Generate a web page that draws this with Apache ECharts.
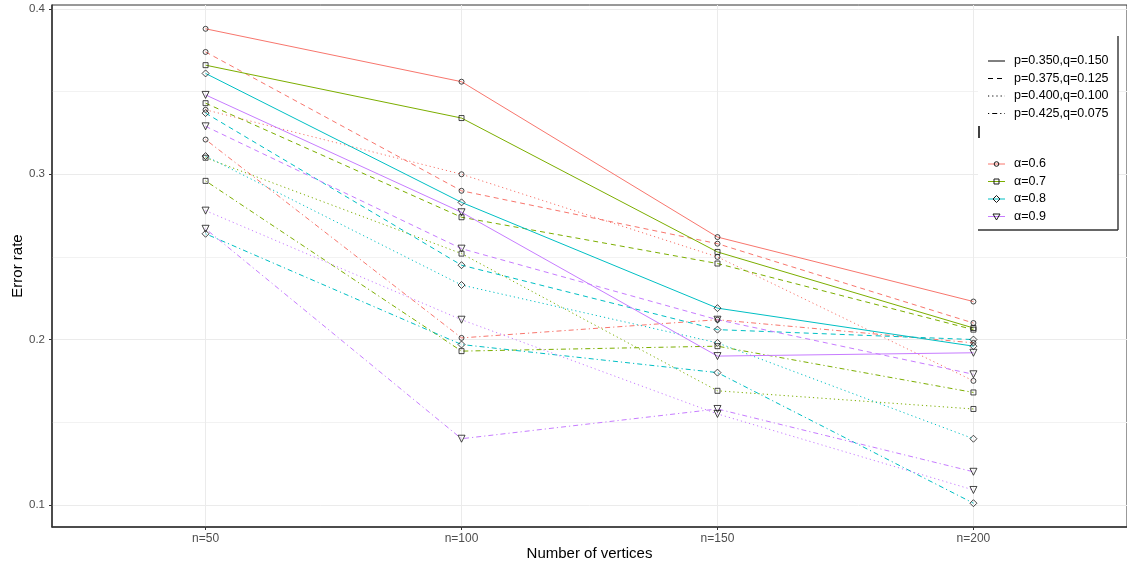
<!DOCTYPE html>
<html>
<head>
<meta charset="utf-8">
<script src="https://cdn.jsdelivr.net/npm/echarts@6/dist/echarts.min.js"></script>
<style>
  html, body { margin: 0; padding: 0; background: #fff; }
  #container { width: 1127px; height: 565px; }
</style>
</head>
<body>
<div id="container"></div>
<script>
// categories and legend labels
const categories = ['n=50', 'n=100', 'n=150', 'n=200'];
const settings = ['p=0.350,q=0.150', 'p=0.375,q=0.125', 'p=0.400,q=0.100', 'p=0.425,q=0.075'];
const alphas = ['α=0.6', 'α=0.7', 'α=0.8', 'α=0.9'];
const yTicks = [0.1, 0.2, 0.3, 0.4];
const yMinorTicks = [0.15, 0.25, 0.35];

// error rates, one array per alpha / (p,q) setting
const a06_p350 = [0.388, 0.356, 0.262, 0.223];
const a06_p375 = [0.374, 0.290, 0.258, 0.210];
const a06_p400 = [0.339, 0.300, 0.250, 0.175];
const a06_p425 = [0.321, 0.201, 0.212, 0.198];
const a07_p350 = [0.366, 0.334, 0.253, 0.207];
const a07_p375 = [0.343, 0.274, 0.246, 0.206];
const a07_p400 = [0.310, 0.252, 0.169, 0.158];
const a07_p425 = [0.296, 0.193, 0.196, 0.168];
const a08_p350 = [0.361, 0.283, 0.219, 0.196];
const a08_p375 = [0.337, 0.245, 0.206, 0.200];
const a08_p400 = [0.311, 0.233, 0.198, 0.140];
const a08_p425 = [0.264, 0.197, 0.180, 0.101];
const a09_p350 = [0.348, 0.277, 0.190, 0.192];
const a09_p375 = [0.329, 0.255, 0.212, 0.179];
const a09_p400 = [0.278, 0.212, 0.155, 0.109];
const a09_p425 = [0.267, 0.140, 0.158, 0.120];

const groups = [
    [a06_p350, a06_p375, a06_p400, a06_p425],
    [a07_p350, a07_p375, a07_p400, a07_p425],
    [a08_p350, a08_p375, a08_p400, a08_p425],
    [a09_p350, a09_p375, a09_p400, a09_p425]
];

const colors = ['#F8766D', '#7CAE00', '#00BFC4', '#C77CFF'];
const dashes = ['solid', [5, 4], [1.2, 3], [1.2, 3, 5, 3]];
const symbols = ['circle', 'rect', 'diamond', 'triangle'];
const symbolSizes = [5, 5, 7, 7];
const symbolRotates = [0, 0, 0, 180];
const FONT = 'Liberation Sans, Arial, sans-serif';

var series = [];
groups.forEach(function (grp, a) {
    grp.forEach(function (vals, s) {
        var pts = vals.map(function (v, i) { return [i + 1, v]; });
        series.push({
            name: alphas[a] + ' ' + settings[s],
            type: 'line',
            data: pts,
            showSymbol: false,
            symbol: 'none',
            z: 2,
            lineStyle: { color: colors[a], width: 1, type: dashes[s] }
        });
    });
});
groups.forEach(function (grp, a) {
    grp.forEach(function (vals, s) {
        series.push({
            type: 'scatter',
            data: vals.map(function (v, i) { return [i + 1, v]; }),
            symbol: symbols[a],
            symbolSize: symbolSizes[a],
            symbolRotate: symbolRotates[a],
            z: 5,
            itemStyle: { color: 'rgba(0,0,0,0)', borderColor: '#1a1a1a', borderWidth: 1 }
        });
    });
});

// legend drawn by hand (two blocks like ggplot)
var legend = [
    { type: 'rect', shape: { x: 978, y: 36, width: 140, height: 194 }, style: { fill: '#fff' }, z: 50 },
    { type: 'line', shape: { x1: 1118, y1: 36, x2: 1118, y2: 230 }, style: { stroke: '#333', lineWidth: 1.4 }, z: 51 },
    { type: 'line', shape: { x1: 978, y1: 230, x2: 1118, y2: 230 }, style: { stroke: '#333', lineWidth: 1.4 }, z: 51 },
    { type: 'line', shape: { x1: 979, y1: 126, x2: 979, y2: 138 }, style: { stroke: '#000', lineWidth: 1.5 }, z: 51 }
];
settings.forEach(function (lab, s) {
    var y = 61 + s * 17.5;
    legend.push({ type: 'line', shape: { x1: 988, y1: y, x2: 1005, y2: y },
        style: { stroke: '#000', lineWidth: 1, lineDash: dashes[s] === 'solid' ? null : dashes[s] }, z: 52 });
    legend.push({ type: 'text', x: 1014, y: y, style: { text: lab, fill: '#000', font: '12.5px ' + FONT, verticalAlign: 'middle' }, z: 52 });
});
alphas.forEach(function (lab, a) {
    var y = 164 + a * 17.5;
    legend.push({ type: 'line', shape: { x1: 988, y1: y, x2: 1005, y2: y }, style: { stroke: colors[a], lineWidth: 1 }, z: 52 });
    var mk;
    if (a === 0) mk = { type: 'circle', shape: { cx: 996.5, cy: y, r: 2.3 } };
    else if (a === 1) mk = { type: 'rect', shape: { x: 994, y: y - 2.5, width: 5, height: 5 } };
    else if (a === 2) mk = { type: 'polygon', shape: { points: [[996.5, y - 3.5], [1000, y], [996.5, y + 3.5], [993, y]] } };
    else mk = { type: 'polygon', shape: { points: [[993, y - 2.5], [1000, y - 2.5], [996.5, y + 3.5]] } };
    mk.style = { fill: 'none', stroke: '#1a1a1a', lineWidth: 1 };
    mk.z = 53;
    legend.push(mk);
    legend.push({ type: 'text', x: 1014, y: y, style: { text: lab, fill: '#000', font: '12.5px ' + FONT, verticalAlign: 'middle' }, z: 52 });
});

var chart = echarts.init(document.getElementById('container'));
chart.setOption({
    animation: false,
    backgroundColor: '#fff',
    grid: { left: 52, right: 0, top: 5, bottom: 38, show: true, borderColor: '#333', borderWidth: 1,
        containLabel: false, outerBoundsMode: 'none' },
    xAxis: {
        type: 'value', min: 0.4, max: 4.6,
        name: 'Number of vertices', nameLocation: 'middle', nameGap: 19, nameMoveOverlap: false,
        nameTextStyle: { fontFamily: FONT, fontSize: 15, color: '#000', verticalAlign: 'top' },
        axisLine: { show: true, onZero: false, lineStyle: { color: '#333', width: 1.5 } },
        axisTick: { show: true, length: 3, customValues: [1, 2, 3, 4], lineStyle: { color: '#333' } },
        axisLabel: { customValues: [1, 2, 3, 4], margin: 6, fontFamily: FONT, fontSize: 12, color: '#4D4D4D',
            formatter: function (v) { return categories[Math.round(v) - 1]; } },
        splitLine: { show: true, lineStyle: { color: '#EBEBEB', width: 1 } }
    },
    yAxis: [{
        type: 'value', min: 0.0866, max: 0.4024,
        name: 'Error rate', nameLocation: 'middle', nameGap: 27, nameRotate: 90, nameMoveOverlap: false,
        nameTextStyle: { fontFamily: FONT, fontSize: 15, color: '#000' },
        axisLine: { show: true, lineStyle: { color: '#333', width: 1.5 } },
        axisTick: { show: true, length: 3, customValues: yTicks, lineStyle: { color: '#333' } },
        axisLabel: { customValues: yTicks, margin: 7, fontFamily: FONT, fontSize: 11.5, color: '#4D4D4D',
            formatter: function (v) { return v.toFixed(1); } },
        splitLine: { show: true, lineStyle: { color: '#EBEBEB', width: 1 } }
    }, {
        type: 'value', min: 0.0866, max: 0.4024, position: 'left',
        axisLine: { show: false },
        axisTick: { show: false, customValues: yMinorTicks },
        axisLabel: { show: false, customValues: yMinorTicks },
        splitLine: { show: true, lineStyle: { color: '#F2F2F2', width: 1 } }
    }],
    series: series,
    graphic: legend
});
</script>
</body>
</html>
